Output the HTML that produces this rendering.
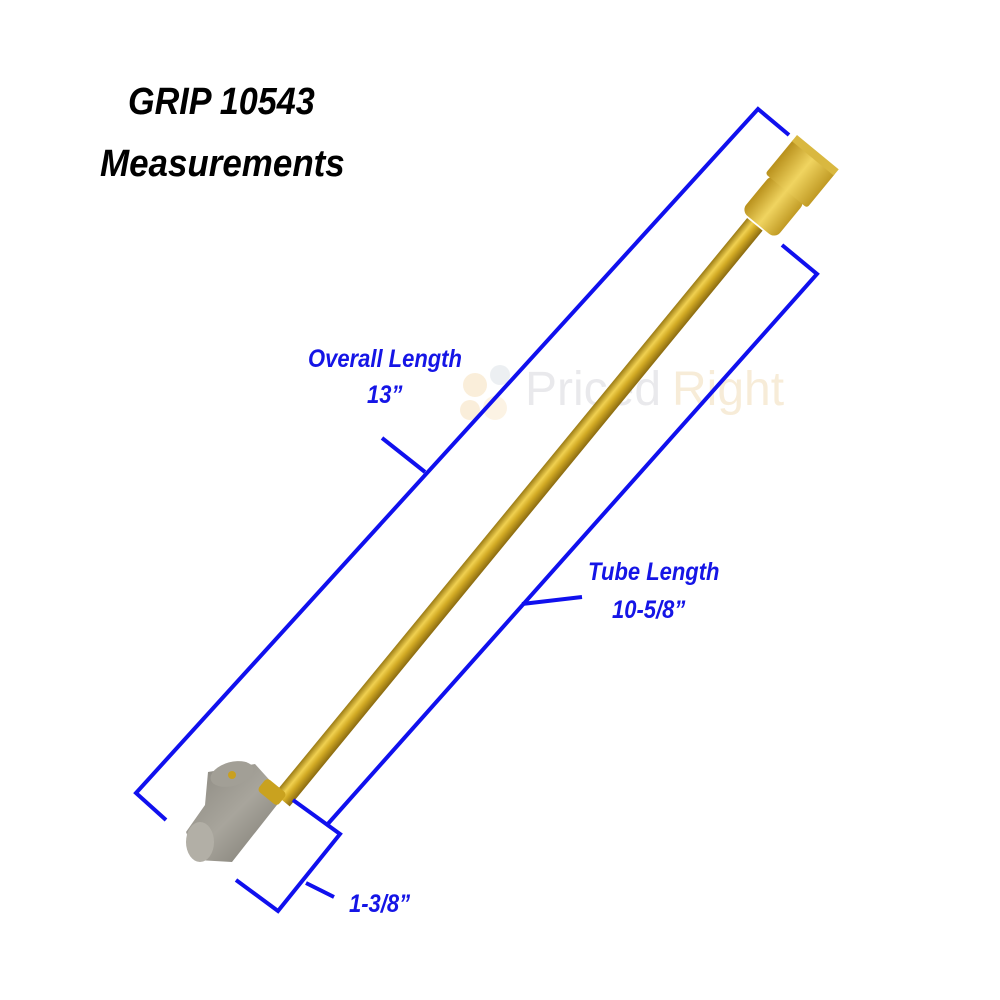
<!DOCTYPE html>
<html><head><style>
body{margin:0;background:#fff;width:1000px;height:1000px;overflow:hidden}
svg{display:block}
</style></head><body>
<svg width="1000" height="1000" viewBox="0 0 1000 1000" xmlns="http://www.w3.org/2000/svg">
<defs>
<linearGradient id="tube" x1="0" y1="0" x2="1" y2="0">
<stop offset="0" stop-color="#9a7a14"/><stop offset="0.35" stop-color="#f0d050"/><stop offset="0.6" stop-color="#d2aa24"/><stop offset="1" stop-color="#8a6a10"/>
</linearGradient>
<linearGradient id="fit" x1="0" y1="0" x2="1" y2="0">
<stop offset="0" stop-color="#b8901c"/><stop offset="0.5" stop-color="#f0d460"/><stop offset="1" stop-color="#c09a24"/>
</linearGradient>
<linearGradient id="chuck" x1="0" y1="0" x2="1" y2="1">
<stop offset="0" stop-color="#8a877f"/><stop offset="0.5" stop-color="#a8a59c"/><stop offset="1" stop-color="#77746c"/>
</linearGradient>
</defs>
<g opacity="0.18">
<circle cx="475" cy="385" r="12" fill="#e8a33a"/><circle cx="500" cy="375" r="10" fill="#9ab"/><circle cx="470" cy="410" r="10" fill="#e8a33a"/><circle cx="495" cy="408" r="12" fill="#f0c070"/>
<text x="525" y="405" font-family="Liberation Sans, sans-serif" font-size="48" fill="#889">Priced</text>
<text x="672" y="405" font-family="Liberation Sans, sans-serif" font-size="48" fill="#d89a30">Right</text>
</g>
<g transform="translate(282,800) rotate(39.4)">
<rect x="-10" y="-745" width="20" height="745" fill="url(#tube)"/>
</g>
<g transform="translate(795,180) rotate(39.4)">
<rect x="-22" y="10" width="44" height="48" rx="8" fill="url(#fit)"/>
<rect x="-27" y="-32" width="54" height="46" rx="3" fill="url(#fit)"/>
<rect x="-27" y="-36" width="54" height="8" fill="#d9b840"/>
</g>
<polygon points="208,772 255,764 284,796 232,862 197,860 186,832 205,805" fill="url(#chuck)"/>
<ellipse cx="200" cy="842" rx="14" ry="20" fill="#b2afa6"/>
<ellipse cx="232" cy="774" rx="22" ry="12" fill="#a29f96" transform="rotate(-15 232 774)"/>
<circle cx="232" cy="775" r="4" fill="#c9a020"/>
<g transform="translate(272,792) rotate(39.4)"><rect x="-13" y="-8" width="26" height="16" rx="4" fill="#c9a21f"/></g>
<g stroke="#1010ee" stroke-width="4" fill="none">
<polyline points="166,820 136,793 758,109 789,135"/>
<line x1="425" y1="472" x2="382" y2="438"/>
<polyline points="326,826 817,274 782,245"/>
<line x1="522" y1="604" x2="582" y2="597"/>
<polyline points="293,800 340,834 278,911 236,880"/>
<line x1="306" y1="883" x2="334" y2="897"/>
</g>
<g font-family="Liberation Sans, sans-serif" font-style="italic" font-weight="bold">
<text transform="translate(128,114) scale(0.9,1)" font-size="38" fill="#000">GRIP 10543</text>
<text transform="translate(100,176) scale(0.92,1)" font-size="38" fill="#000">Measurements</text>
<g fill="#1515e6" font-size="25">
<text transform="translate(308,367) scale(0.88,1)">Overall Length</text>
<text transform="translate(367,403) scale(0.88,1)">13”</text>
<text transform="translate(588,580) scale(0.88,1)">Tube Length</text>
<text transform="translate(612,618) scale(0.88,1)">10-5/8”</text>
<text transform="translate(349,912) scale(0.88,1)">1-3/8”</text>
</g>
</g>
</svg>
</body></html>
